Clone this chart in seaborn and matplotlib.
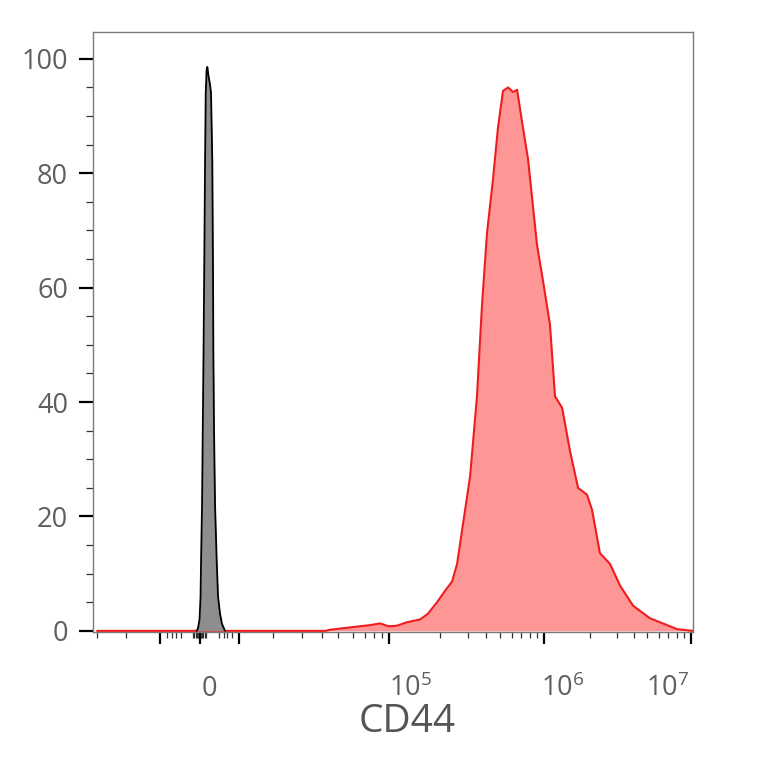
import numpy as np
import pandas as pd
import matplotlib
matplotlib.use("Agg")
import matplotlib.pyplot as plt
import matplotlib.ticker as mticker
from matplotlib.transforms import ScaledTranslation
import seaborn as sns

# CD44 stained sample (red), x = fluorescence, y = % of max
cd44_x = [-30000, 42000, 45000, 58000, 75500, 88000, 100000, 112000, 128000, 153000,
          170000, 192000, 215000, 238000, 256000, 279000, 310000, 346000, 375000,
          406000, 447000, 484000, 524000, 567000, 614000, 654000, 707000, 777000,
          895000, 984000, 1094000, 1180000, 1313000, 1480000, 1670000, 1910000,
          2060000, 2320000, 2700000, 3160000, 3940000, 5240000, 6860000, 8020000,
          10300000]
cd44_y = [0, 0, 0.2, 0.6, 1.0, 1.3, 0.8, 0.9, 1.5, 2.0,
          3.0, 5.0, 7.0, 8.6, 11.7, 18.7, 27, 41, 57,
          69.5, 79, 88, 94.4, 95, 94.2, 94.6, 89, 82.5,
          67.5, 61.2, 53.5, 41, 39, 31.4, 25, 23.8,
          21.2, 13.6, 11.7, 7.9, 4.4, 2.2, 1.0, 0.3,
          0]

# unstained control (grey)
ctrl_x = [-214, -114, 0, 76, 114, 191, 269, 308, 389, 430, 488, 556, 627, 737,
          884, 987, 1129, 1213, 1250, 1336, 1468, 1711, 1914, 2260, 2660, 3390]
ctrl_y = [0, 0.5, 2, 6, 12, 22, 40, 49, 70, 82, 94, 98, 98.6, 97,
          95.5, 94, 82, 62, 49, 35, 22, 12, 6, 3, 1.2, 0]

major_ticks = [-1e4, 0, 1e4, 1e5, 1e6, 1e7]
major_labels = ["", "0", "", r"$\mathregular{10^5}$", r"$\mathregular{10^6}$",
                r"$\mathregular{10^7}$"]
label_shift_px = [0, 10, 0, 22, 19, -23]

near_zero = [100, 200, 300, 400, 500, 2000, 3000, 4000, 6000]
minor_ticks = [-3e4, -2e4] + [-v for v in near_zero] + near_zero
for dec in [1e4, 1e5, 1e6]:
    minor_ticks += [k * dec for k in range(2, 10)]

# biexponential-like display scale (calibrated to the axis of the original)
cal_x = np.array([0, 1e4, 2e4, 3e4, 4e4, 5e4, 7e4, 1e5, 2e5, 3e5, 5e5, 1e6,
                  2e6, 3e6, 5e6, 1e7, 1e8])
cal_d = np.array([0, 39.5, 73.5, 102.5, 122.5, 138.5, 165.5, 189, 240.5, 268.5,
                  300.5, 344.5, 390.5, 417.5, 447.5, 491.5, 640])
cal_t = np.arcsinh(cal_x / 1000)


def fwd(x):
    t = np.arcsinh(np.asarray(x, dtype=float) / 1000)
    return np.sign(t) * np.interp(np.abs(t), cal_t, cal_d)


def inv(d):
    d = np.asarray(d, dtype=float)
    t = np.sign(d) * np.interp(np.abs(d), cal_d, cal_t)
    return 1000 * np.sinh(t)


sns.set_style("ticks")
plt.rcParams["font.family"] = ["Open Sans", "DejaVu Sans"]
plt.rcParams["mathtext.fontset"] = "custom"
plt.rcParams["mathtext.rm"] = "Open Sans"

red = pd.DataFrame({"x": cd44_x, "y": cd44_y})
grey = pd.DataFrame({"x": ctrl_x, "y": ctrl_y})

fig = plt.figure(figsize=(7.63, 7.68), dpi=100)
ax = fig.add_axes([93 / 763, 136 / 768, 600 / 763, 600 / 768])
ax.set_xscale("function", functions=(fwd, inv))

ax.fill_between(red["x"], red["y"], color="#ff9696", lw=0, zorder=2)
sns.lineplot(data=red, x="x", y="y", ax=ax, color="#ee1c1c", lw=1.5,
             estimator=None, sort=False, zorder=3)
ax.fill_between(grey["x"], grey["y"], color="#8e8e8e", lw=0, zorder=4)
sns.lineplot(data=grey, x="x", y="y", ax=ax, color="black", lw=1.3,
             estimator=None, sort=False, zorder=5)

ax.set_xlim(-31800, 1.031e7)
ax.set_ylim(-0.2, 104.7)

ax.set_yticks([0, 20, 40, 60, 80, 100])
ax.yaxis.set_minor_locator(mticker.MultipleLocator(5))
ax.xaxis.set_minor_locator(mticker.FixedLocator(minor_ticks))

lab_col = "#5f5f5f"
ax.tick_params(axis="y", which="major", length=10, width=1.6, color="black",
               labelsize=19.5, labelcolor=lab_col, pad=8)
ax.tick_params(axis="y", which="minor", length=5, width=0.9, color="#333333")
ax.tick_params(axis="x", which="major", length=8.6, width=1.6, color="black",
               labelsize=19.5, labelcolor=lab_col, pad=37.5)
ax.tick_params(axis="x", which="minor", length=4.3, width=0.9, color="#333333")
ax.set_xticks(major_ticks, major_labels)

for lab, dx in zip(ax.xaxis.get_majorticklabels(), label_shift_px):
    lab.set_transform(lab.get_transform() + ScaledTranslation(dx / 100, 0, fig.dpi_scale_trans))
    lab.set_verticalalignment("baseline")

for s in ax.spines.values():
    s.set_color("#7a7a7a")
    s.set_linewidth(1.0)

ax.set_xlabel("CD44", fontsize=28, color="#555555")
ax.set_ylabel("")
ax.xaxis.set_label_coords((407 - 93) / 600, -0.118)

fig.savefig("out.png", dpi=100)
